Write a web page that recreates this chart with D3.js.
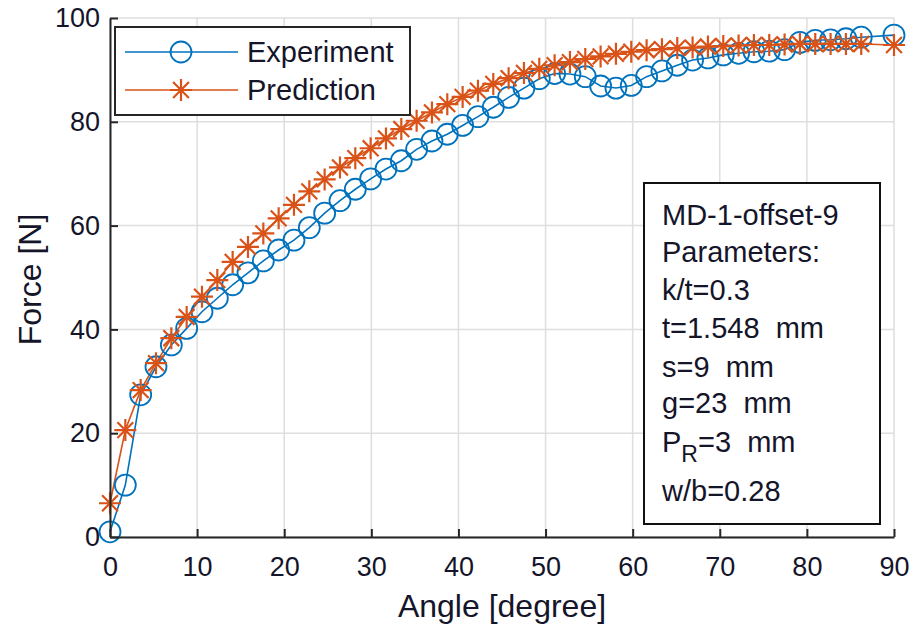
<!DOCTYPE html>
<html>
<head>
<meta charset="utf-8">
<script src="https://cdn.jsdelivr.net/npm/d3@7"></script>
<style>
  html, body { margin: 0; padding: 0; background: #fff; }
  svg { display: block; font-family: "Liberation Sans", Arial, sans-serif; }
  text { white-space: pre; }
</style>
</head>
<body>
<svg id="chart" width="914" height="628"></svg>
<script>
// Bending angle (degree) of each recorded sample
const angles = [0, 1.76, 3.52, 5.28, 7.04, 8.80, 10.56, 12.32, 14.08, 15.84,
  17.60, 19.36, 21.12, 22.88, 24.64, 26.40, 28.16, 29.92, 31.68, 33.44,
  35.20, 36.96, 38.72, 40.48, 42.24, 44.00, 45.76, 47.52, 49.28, 51.04,
  52.80, 54.56, 56.32, 58.08, 59.84, 61.60, 63.36, 65.12, 66.88, 68.64,
  70.40, 72.16, 73.92, 75.68, 77.44, 79.20, 80.96, 82.72, 84.48, 86.24, 90];

// Measured force [N]
const experiment = [1.0, 10.0, 27.4, 32.8, 37.0, 40.2, 43.4, 46.0, 48.6, 50.9,
  53.2, 55.3, 57.2, 59.6, 62.4, 64.8, 67.0, 69.0, 70.9, 72.5,
  74.7, 76.3, 77.6, 79.3, 81.0, 82.8, 84.7, 86.5, 88.3, 89.3,
  89.2, 88.7, 86.9, 86.5, 87.0, 88.7, 89.8, 90.9, 91.9, 92.3,
  92.9, 93.2, 93.5, 93.6, 93.9, 95.3, 95.7, 95.8, 96.0, 96.3, 96.7];

// Model force [N]
const prediction = [6.5, 20.6, 28.3, 33.5, 38.3, 42.4, 46.3, 49.5, 53.0, 55.9,
  58.5, 61.4, 64.0, 66.6, 68.9, 71.2, 73.0, 74.9, 76.8, 78.6,
  80.2, 81.8, 83.4, 84.8, 86.0, 87.3, 88.4, 89.4, 90.2, 90.9,
  91.5, 92.1, 92.6, 93.1, 93.5, 93.8, 94.0, 94.2, 94.3, 94.5,
  94.6, 94.7, 94.8, 94.8, 94.9, 95.0, 95.0, 95.0, 95.0, 95.0, 94.8];

const xTicks = [0, 10, 20, 30, 40, 50, 60, 70, 80, 90];
const yTicks = [0, 20, 40, 60, 80, 100];
const seriesNames = ["Experiment", "Prediction"];
const paramTitle = ["MD-1-offset-9", "Parameters:", "k/t=0.3", "t=1.548  mm", "s=9  mm", "g=23  mm"];
const paramPR = { base: "P", sub: "R", rest: "=3  mm" };
const paramLast = "w/b=0.28";

const blue = "#0072BD", orange = "#D95319", axisCol = "#262626", gridCol = "#dedede", ink = "#15152a";

const svg = d3.select("#chart");
const x = d3.scaleLinear().domain([0, 90]).range([110, 894]);
const y = d3.scaleLinear().domain([0, 100]).range([537, 18]);

// grid
const grid = svg.append("g");
grid.selectAll("line.gx").data(xTicks).join("line")
  .attr("x1", d => x(d)).attr("x2", d => x(d)).attr("y1", y(0)).attr("y2", y(100))
  .attr("stroke", gridCol).attr("stroke-width", 1.5);
grid.selectAll("line.gy").data(yTicks).join("line")
  .attr("y1", d => y(d)).attr("y2", d => y(d)).attr("x1", x(0)).attr("x2", x(90))
  .attr("stroke", gridCol).attr("stroke-width", 1.5);

// series
const pts = vals => angles.map((a, i) => [a, vals[i]]);
const line = d3.line().x(d => x(d[0])).y(d => y(d[1]));

svg.append("path").datum(pts(experiment)).attr("d", line)
  .attr("fill", "none").attr("stroke", blue).attr("stroke-width", 1.6);
svg.append("path").datum(pts(prediction)).attr("d", line)
  .attr("fill", "none").attr("stroke", orange).attr("stroke-width", 1.6);

function circleMarker(g, cx, cy) {
  g.append("circle").attr("cx", cx).attr("cy", cy).attr("r", 10.5)
    .attr("fill", "none").attr("stroke", blue).attr("stroke-width", 1.8);
}
function starMarker(g, cx, cy) {
  const r = 11, d = r * 0.72;
  const p = `M${cx - r},${cy}H${cx + r}M${cx},${cy - r}V${cy + r}` +
            `M${cx - d},${cy - d}L${cx + d},${cy + d}M${cx - d},${cy + d}L${cx + d},${cy - d}`;
  g.append("path").attr("d", p).attr("stroke", orange).attr("stroke-width", 2.2).attr("fill", "none");
}

const mExp = svg.append("g");
pts(experiment).forEach(d => circleMarker(mExp, x(d[0]), y(d[1])));
const mPred = svg.append("g");
pts(prediction).forEach(d => starMarker(mPred, x(d[0]), y(d[1])));

// axes
const xAxis = d3.axisBottom(x).tickValues(xTicks).tickSizeInner(-8).tickSizeOuter(0).tickPadding(20);
const yAxis = d3.axisLeft(y).tickValues(yTicks).tickSizeInner(-8).tickSizeOuter(0).tickPadding(10);

const gx = svg.append("g").attr("transform", `translate(0,${y(0)})`).call(xAxis);
const gy = svg.append("g").attr("transform", `translate(${x(0)},0)`).call(yAxis);
[gx, gy].forEach(g => {
  g.select(".domain").attr("stroke", axisCol).attr("stroke-width", 2);
  g.selectAll(".tick line").attr("stroke", axisCol).attr("stroke-width", 2);
  g.selectAll(".tick text").attr("fill", ink)
    .style("font-family", '"Liberation Sans", Arial, sans-serif').style("font-size", "27px");
});

svg.append("text").attr("x", (x(0) + x(90)) / 2).attr("y", 617)
  .attr("text-anchor", "middle").attr("fill", ink).style("font-size", "32px")
  .text("Angle [degree]");
svg.append("text").attr("transform", `translate(41,${(y(0) + y(100)) / 2 + 2}) rotate(-90)`)
  .attr("text-anchor", "middle").attr("fill", ink).style("font-size", "32px")
  .text("Force [N]");

// legend
const lg = svg.append("g");
lg.append("rect").attr("x", 115).attr("y", 27).attr("width", 295).attr("height", 88)
  .attr("fill", "#fff").attr("stroke", axisCol).attr("stroke-width", 2);
const rows = [52, 90];
seriesNames.forEach((name, i) => {
  const cy = rows[i], col = i === 0 ? blue : orange;
  lg.append("line").attr("x1", 125).attr("x2", 238).attr("y1", cy).attr("y2", cy)
    .attr("stroke", col).attr("stroke-width", 1.6);
  if (i === 0) circleMarker(lg, 181, cy); else starMarker(lg, 181, cy);
  lg.append("text").attr("x", 247).attr("y", cy + 10).attr("fill", ink)
    .style("font-size", "29px").text(name);
});

// parameter box
const pb = svg.append("g");
pb.append("rect").attr("x", 644).attr("y", 183).attr("width", 236).attr("height", 341)
  .attr("fill", "#fff").attr("stroke", "#111").attr("stroke-width", 2);
const baselines = [225, 262, 300, 338, 377, 413];
paramTitle.forEach((t, i) => {
  pb.append("text").attr("x", 662).attr("y", baselines[i]).attr("fill", ink)
    .style("font-size", "29px").text(t);
});
const pr = pb.append("text").attr("x", 662).attr("y", 452).attr("fill", ink).style("font-size", "29px");
pr.append("tspan").text(paramPR.base);
pr.append("tspan").attr("dy", 10).style("font-size", "23px").text(paramPR.sub);
pr.append("tspan").attr("dy", -10).text(paramPR.rest);
pb.append("text").attr("x", 662).attr("y", 501).attr("fill", ink)
  .style("font-size", "29px").text(paramLast);
</script>
</body>
</html>
